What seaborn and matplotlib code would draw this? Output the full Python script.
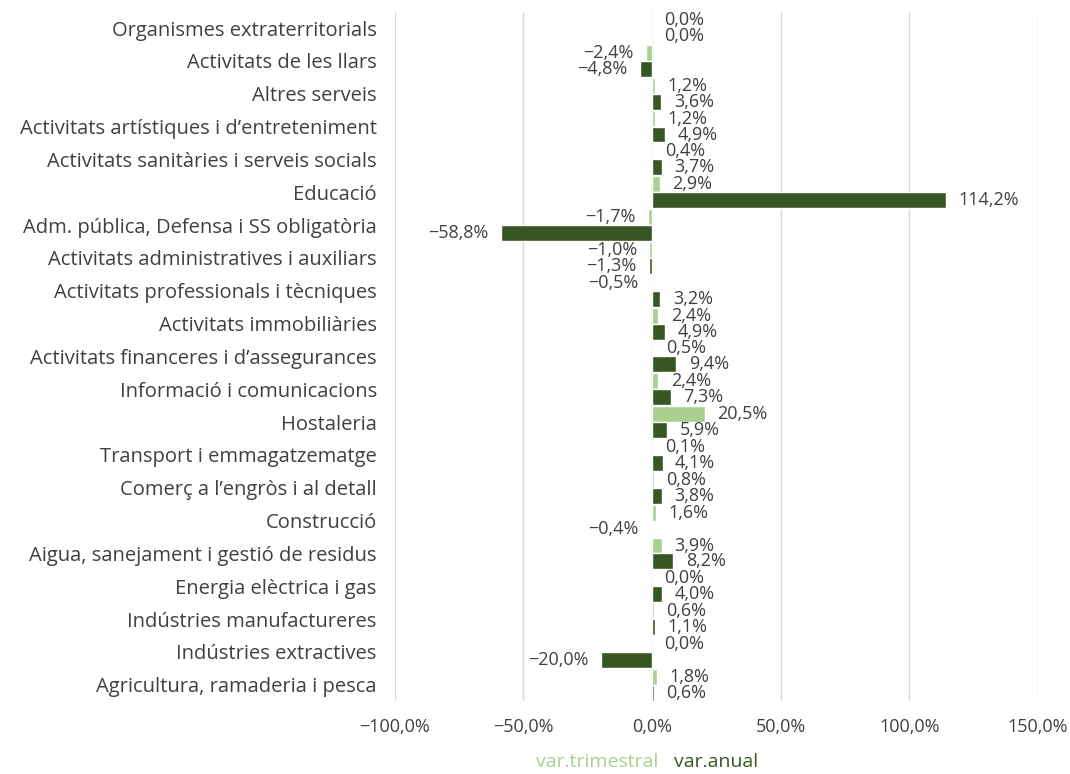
import numpy as np
import pandas as pd
import matplotlib
matplotlib.use('Agg')
import matplotlib.pyplot as plt
import seaborn as sns

sectors = [
    'Organismes extraterritorials',
    'Activitats de les llars',
    'Altres serveis',
    'Activitats artístiques i d’entreteniment',
    'Activitats sanitàries i serveis socials',
    'Educació',
    'Adm. pública, Defensa i SS obligatòria',
    'Activitats administratives i auxiliars',
    'Activitats professionals i tècniques',
    'Activitats immobiliàries',
    'Activitats financeres i d’assegurances',
    'Informació i comunicacions',
    'Hostaleria',
    'Transport i emmagatzematge',
    'Comerç a l’engròs i al detall',
    'Construcció',
    'Aigua, sanejament i gestió de residus',
    'Energia elèctrica i gas',
    'Indústries manufactureres',
    'Indústries extractives',
    'Agricultura, ramaderia i pesca',
]
var_trimestral = [0.0, -2.4, 1.2, 1.2, 0.4, 2.9, -1.7, -1.0, -0.5, 2.4, 0.5,
                  2.4, 20.5, 0.1, 0.8, 1.6, 3.9, 0.0, 0.6, 0.0, 1.8]
var_anual = [0.0, -4.8, 3.6, 4.9, 3.7, 114.2, -58.8, -1.3, 3.2, 4.9, 9.4,
             7.3, 5.9, 4.1, 3.8, -0.4, 8.2, 4.0, 1.1, -20.0, 0.6]
series_names = ['var.trimestral', 'var.anual']
colors = ['#A9D08E', '#375623']
text_color = '#404040'

df = pd.DataFrame({
    'sector': sectors * 2,
    'valor': var_trimestral + var_anual,
    'serie': [series_names[0]] * len(sectors) + [series_names[1]] * len(sectors),
})

sns.set_style('white')
plt.rcParams['font.family'] = ['Open Sans', 'DejaVu Sans']


def fmt(v):
    s = f'{v:.1f}%'.replace('.', ',')
    return s.replace('-', '−')


fig, ax = plt.subplots(figsize=(10.7, 7.74), dpi=100)
fig.subplots_adjust(left=0.369, right=0.970, top=0.985, bottom=0.094)
sns.barplot(data=df, x='valor', y='sector', hue='serie', orient='h',
            palette=colors, width=0.97, ax=ax, legend=False, saturation=1)

for cont, vals in zip(ax.containers, [var_trimestral, var_anual]):
    ax.bar_label(cont, labels=[fmt(v) for v in vals], padding=9,
                 fontsize=13, color=text_color)

ax.set_xlim(-100, 150)
ax.set_xticks([-100, -50, 0, 50, 100, 150])
ax.set_xticklabels([fmt(v) for v in [-100, -50, 0, 50, 100, 150]])
ax.grid(axis='x', color='#d9d9d9', linewidth=1)
ax.set_axisbelow(True)
sns.despine(ax=ax, left=True, bottom=True)
ax.tick_params(axis='both', length=0, colors=text_color)
ax.tick_params(axis='x', pad=12, labelsize=13)
ax.tick_params(axis='y', pad=13, labelsize=14.5)
ax.set_xlabel('')
ax.set_ylabel('')

handles = [plt.Rectangle((0, 0), 1, 1, visible=False) for _ in series_names]
fig.legend(handles, series_names, loc='center', bbox_to_anchor=(0.605, 0.016),
           ncol=2, frameon=False, handlelength=0, handletextpad=0,
           columnspacing=0.8, labelcolor=colors, fontsize=14)

plt.savefig('out.png', dpi=100)
